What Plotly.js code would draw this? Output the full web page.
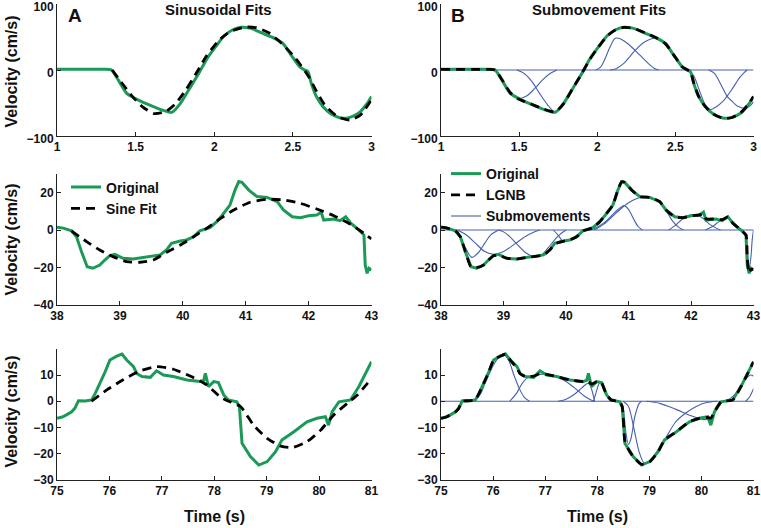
<!DOCTYPE html>
<html><head><meta charset="utf-8">
<script src="https://cdn.plot.ly/plotly-3.0.1.min.js"></script>
<style>html,body{margin:0;padding:0;background:#fff}#chart{width:761px;height:528px}</style>
</head><body><div id="chart"></div>
<script>
// ---------- Row 1 (t = 1..3 s) ----------
const t1Orig = [1.0,1.1,1.2,1.3,1.346,1.389,1.442,1.496,1.571,1.656,1.731,1.785,1.838,1.902,1.955,2.008,2.062,2.115,2.169,2.233,2.308,2.383,2.436,2.489,2.543,2.575,2.596,2.617,2.649,2.692,2.745,2.81,2.863,2.917,2.97,3.0];
const v1Orig = [1,1,1,1,0,-15,-35,-43,-51.5,-59.6,-64,-50.5,-30,-5,17.7,35,51.5,60.6,64.6,63,55.6,48,40.4,22.7,5,0,-2.5,-20,-40,-55.6,-67,-73,-71.7,-65.6,-51.5,-40];
const v1Lgnb = [1,1,1,1,0,-14,-34,-44,-51,-59,-63.5,-51,-30,-5,17,35,51,60.5,64.5,63,56,48,40,23,5,0.5,-2,-19,-40,-55.5,-67,-73.5,-72,-65,-51,-40];
const t1Sine = [1.351,1.42,1.479,1.54,1.617,1.69,1.75,1.82,1.898,1.947,2.03,2.1,2.2,2.27,2.35,2.43,2.52,2.6,2.65,2.7,2.78,2.862,2.93,3.0];
const v1Sine = [0,-22,-40,-55,-66,-63,-52,-30,0,20,45,58,65,64,56,40,17,-10,-32,-52,-70,-76,-68,-45];
const sub1T = [
  [1.346,1.39,1.44,1.5,1.55,1.6,1.65,1.7,1.741],
  [1.485,1.53,1.58,1.63,1.68,1.731,1.78,1.84,1.88,1.91],
  [1.99,2.02,2.05,2.08,2.115,2.15,2.2,2.25,2.3,2.34,2.37,2.393],
  [2.083,2.12,2.17,2.244,2.3,2.372,2.42,2.47,2.51,2.54,2.565],
  [2.59,2.62,2.66,2.69,2.724,2.76,2.81,2.83,2.86,2.91,2.94,2.96],
  [2.713,2.75,2.8,2.831,2.87,2.9,2.949,2.98,3.0]
];
const sub1V = [
  [0,-14,-33,-43,-39,-28,-15,-5,0],
  [0,-5,-17,-35,-52,-64,-51,-30,-13,0],
  [0,4,17,34,48,47,39,28,16,7,2,0],
  [0,2,10,30,42,48,42,28,14,5,0],
  [0,-10,-35,-52,-60,-56,-46,-40,-30,-12,-4,0],
  [0,-5,-26,-40,-49,-55,-58,-54,-48]
];

// ---------- Row 2 (t = 38..43 s) ----------
const t2Orig = [38.0,38.1,38.23,38.31,38.39,38.48,38.57,38.68,38.76,38.84,38.92,39.05,39.21,39.42,39.64,39.74,39.82,39.96,40.06,40.17,40.27,40.43,40.54,40.62,40.75,40.83,40.89,40.94,41.05,41.18,41.34,41.5,41.6,41.74,41.87,42.0,42.13,42.2,42.24,42.4,42.5,42.59,42.67,42.8,42.88,42.9,42.93,42.96,43.0];
const v2Orig = [1.5,1,-0.4,-3.6,-11.6,-19.6,-20.4,-18.7,-16,-13.7,-13,-15.1,-15.5,-14.4,-13.3,-10.7,-7.1,-5.9,-5.3,-3.6,-0.5,1.2,4.4,7.6,13.3,21.3,25.8,25.4,21.3,17.8,17.4,15.1,10.7,7.1,6.6,7.6,8.0,9.5,5.3,5.9,5,7.1,3.6,0,-2.7,-18.7,-23.1,-20.4,-21.3];
const v2Lgnb = [1.5,1,-0.4,-3.6,-11.6,-19.6,-20,-18.7,-16,-13.7,-13.5,-15,-15.5,-14.4,-13.3,-10.7,-7.5,-6,-5.3,-3.6,-0.5,1.2,4.4,7.6,13.3,21.3,25.6,25.4,21.3,17.8,17.4,15.1,10.7,7.1,6.6,7.6,8.0,8.5,6,5.9,5.5,7,3.6,0,-2.7,-15,-23,-21,-21];
const t2Sine = [38.23,38.47,38.68,38.89,39.11,39.32,39.53,39.74,39.96,40.17,40.38,40.59,40.81,41.07,41.34,41.6,41.87,42.13,42.4,42.67,42.88,43.0];
const v2Sine = [-0.5,-6.2,-10.7,-14.2,-16.9,-17.2,-16,-11.9,-8,-3.6,0.9,5.9,10.7,14.8,16.4,16,14.2,11.2,7.6,3,-1.8,-4.8];
const sub2T = [
  [38.2,38.3,38.4,38.49,38.6,38.7,38.8,38.92],
  [38.26,38.4,38.55,38.7,38.85,39.0,39.2,39.35,39.5,39.58],
  [38.92,39.0,39.1,39.2,39.35,39.5,39.62,39.75,39.88,40.0],
  [39.8,39.88,39.95,40.05,40.15,40.25,40.32],
  [40.38,40.5,40.65,40.8,40.93,41.0,41.08,41.15,41.22],
  [40.45,40.6,40.8,41.0,41.19,41.35,41.5,41.6,41.7,41.8,41.88],
  [41.64,41.75,41.85,41.99,42.1,42.2,42.3,42.4,42.47],
  [42.23,42.35,42.45,42.58,42.65,42.72,42.78,42.82],
  [42.82,42.87,42.9,42.93,42.96,42.98,43.0]
];
const sub2V = [
  [0,-4,-10,-14.6,-12,-7,-2.5,0],
  [0,-2.5,-7,-11.5,-13,-11.5,-7,-3.5,-1,0],
  [0,-1,-3.5,-7,-12,-14.3,-13,-8,-3,0],
  [0,-3,-6,-5.5,-3.5,-1,0],
  [0,1.5,5,10,13,11,6,2,0],
  [0,3,9,14.5,17.3,17,14.5,10.5,5,1.5,0],
  [0,2.5,5.5,8,8,6,3,1,0],
  [0,2,4.5,6.5,5,2,0.5,0],
  [0,-3,-10,-21,-14,-5,0]
];

// ---------- Row 3 (t = 75..81 s) ----------
const t3Orig = [75.0,75.1,75.18,75.28,75.34,75.41,75.54,75.66,75.73,75.82,75.92,76.01,76.14,76.24,76.33,76.46,76.52,76.62,76.78,76.9,77.03,77.22,77.48,77.73,77.8,77.83,77.89,77.99,78.08,78.18,78.27,78.43,78.48,78.53,78.59,78.69,78.85,79.01,79.17,79.29,79.52,79.77,79.96,80.12,80.18,80.25,80.38,80.6,80.76,80.89,81.0];
const v3Orig = [-6.5,-6,-5.2,-4,-2.7,0.2,0.1,0.5,3,6.8,11.3,15.7,17.2,18,15.7,13.2,10.6,9.4,9.1,11.6,10,9.4,8.1,7.5,8,10.6,5.6,7.5,7.1,2.4,0.5,-0.2,-2.1,-16,-17.9,-21.1,-24.3,-23,-19.2,-14.8,-11.6,-7.8,-6.5,-5.9,-9.1,-4,-0.2,0.5,5.6,10.6,15.1];
const v3Lgnb = [-6.5,-6,-5.2,-4,-2.7,0,0.2,0.5,3,6.8,11.3,15.7,17.2,18,15.7,12.5,10.5,9.4,9.6,10.5,10.2,9.4,8.1,7.5,7.5,7.5,6.5,7.5,7.1,2.4,0.5,-0.2,-2.1,-15,-18,-21.1,-24,-23,-19.2,-14.8,-11.6,-7.8,-6.5,-6.2,-6.5,-4,-0.2,0.5,5.6,10.6,15];
const t3Sine = [75.66,75.95,76.27,76.59,76.9,77.22,77.54,77.86,78.11,78.24,78.5,78.75,79.01,79.27,79.5,79.77,80.03,80.28,80.54,80.73,81.0];
const v3Sine = [0,4.3,8.3,11.6,13.2,12.2,9.6,6.2,1.7,0.3,-2,-9.1,-14.1,-17.1,-17.6,-15.4,-11,-5.2,-0.8,2.4,8.7];
const sub3T = [
  [75.63,75.75,75.85,76.0,76.1,76.2,76.3,76.4,76.5,76.6,76.7],
  [76.32,76.45,76.55,76.65,76.8,77.0,77.2,77.4,77.6,77.75,77.9,77.95],
  [77.25,77.4,77.55,77.7,77.8,77.85,77.9,77.95],
  [77.93,77.98,78.05,78.1,78.15,78.2,78.25],
  [78.44,78.5,78.55,78.6,78.65,78.72,78.8,78.85],
  [78.5,78.6,78.7,78.8,78.9,79.0,79.15,79.3,79.5,79.7,79.9,80.1,80.3],
  [78.95,79.2,79.5,79.8,80.05,80.2,80.3,80.4],
  [80.4,80.55,80.7,80.85,80.95,81.0],
  [80.85,80.92,81.0]
];
const sub3V = [
  [0,2.5,7,13.5,16.5,17.9,15.5,10,5,1.5,0],
  [0,3,6.5,8.8,10,10.3,9.5,7.5,4.5,2,0.3,0],
  [0,0.8,2.5,5,6.7,6.5,4,0],
  [0,3.5,7.2,7,4,1.5,0],
  [0,-3,-12,-16.5,-14,-6,-1,0],
  [0,-2,-10,-19,-23.5,-23,-19,-14.5,-8,-4.5,-2,-0.5,0],
  [0,-0.8,-3,-5.5,-7,-6,-3,0],
  [0,1,4,8.5,10,9.5],
  [0,1.5,4.8]
];

// ---------- axes ticks / labels ----------
const xTicks1 = [1,1.5,2,2.5,3], yTicks1 = [-100,0,100];
const xTicks2 = [38,39,40,41,42,43], yTicks2 = [-40,-20,0,20];
const xTicks3 = [75,76,77,78,79,80,81], yTicks3 = [-30,-20,-10,0,10];
const panelTitles = ['Sinusoidal Fits','Submovement Fits'];
const panelLetters = ['A','B'];
const legendNames = ['Original','Sine Fit','LGNB','Submovements'];
const yTitle = 'Velocity (cm/s)', xTitle = 'Time (s)';

// ---------- styling ----------
const FONT = 'Arial, "Liberation Sans", sans-serif';
const GREEN = '#1b9a57', BLUE = '#4660ad', BLACK = '#000000';
const W = 761, H = 528;
const colX = [[57/W, 371.5/W],[441/W, 753.5/W]];
const rowY = [[1-136/H, 1-4/H],[1-305/H, 1-173.75/H],[1-480/H, 1-348.75/H]];
const rowLabelShift = [3, 0, 0];

function axisBase(){ return {showline:true, linecolor:'#222', linewidth:1, ticks:'inside', ticklen:4, tickcolor:'#222',
  showgrid:false, zeroline:false, fixedrange:true, tickmode:'array', ticklabeloverflow:'allow',
  tickfont:{family:FONT, size:12, color:'#111', weight:'bold'}}; }

const layout = {width:W, height:H, margin:{l:0,r:0,t:0,b:0}, paper_bgcolor:'#fff', plot_bgcolor:'rgba(0,0,0,0)',
  showlegend:true, font:{family:FONT}, annotations:[]};

const xr = [[1,3],[38,43],[75,81]], yr = [[-100,100],[-40,30],[-30,20]];
const xt = [xTicks1,xTicks2,xTicks3], yt = [yTicks1,yTicks2,yTicks3];
let n = 0;
for (let r=0;r<3;r++){ for (let c=0;c<2;c++){ n++;
  const xs = n===1?'xaxis':'xaxis'+n, ys = n===1?'yaxis':'yaxis'+n;
  layout[xs] = Object.assign(axisBase(), {domain:colX[c], range:xr[r], tickvals:xt[r], anchor:'y'+(n===1?'':n)});
  layout[ys] = Object.assign(axisBase(), {domain:rowY[r], range:yr[r], tickvals:yt[r], anchor:'x'+(n===1?'':n), ticklabelshift:rowLabelShift[r]});
}}

function subTrace(T, V, tAll, xa, ya, showleg){
  const x = [tAll[0], tAll[tAll.length-1], null], y = [0,0,null];
  T.forEach((tt,i)=>{ x.push(...tt, null); y.push(...V[i], null); });
  return {x, y, xaxis:xa, yaxis:ya, type:'scatter', mode:'lines', name:legendNames[3],
    line:{color:BLUE, width:1.1, shape:'spline', smoothing:0.8}, connectgaps:false,
    showlegend:showleg, legend:'legend2', legendrank:3, hoverinfo:'skip'};
}
function origTrace(t, v, xa, ya, showleg, leg, shape){
  return {x:t, y:v, xaxis:xa, yaxis:ya, type:'scatter', mode:'lines', name:legendNames[0],
    line:{color:GREEN, width:3, shape:shape, smoothing:0.6}, showlegend:showleg, legend:leg, legendrank:1, hoverinfo:'skip'};
}
function fitTrace(t, v, xa, ya, name, showleg, leg){
  return {x:t, y:v, xaxis:xa, yaxis:ya, type:'scatter', mode:'lines', name:name,
    line:{color:BLACK, width:2.8, dash:'9px,6px', shape:'spline', smoothing:0.6}, showlegend:showleg, legend:leg, legendrank:2, hoverinfo:'skip'};
}

const data = [
  origTrace(t1Orig, v1Orig, 'x', 'y', false, 'legend', 'spline'),
  fitTrace(t1Sine, v1Sine, 'x', 'y', legendNames[1], false, 'legend'),
  subTrace(sub1T, sub1V, t1Orig, 'x2', 'y2', false),
  origTrace(t1Orig, v1Orig, 'x2', 'y2', false, 'legend2', 'spline'),
  fitTrace(t1Orig, v1Lgnb, 'x2', 'y2', legendNames[2], false, 'legend2'),

  origTrace(t2Orig, v2Orig, 'x3', 'y3', true, 'legend', 'linear'),
  fitTrace(t2Sine, v2Sine, 'x3', 'y3', legendNames[1], true, 'legend'),
  subTrace(sub2T, sub2V, t2Orig, 'x4', 'y4', true),
  origTrace(t2Orig, v2Orig, 'x4', 'y4', true, 'legend2', 'linear'),
  fitTrace(t2Orig, v2Lgnb, 'x4', 'y4', legendNames[2], true, 'legend2'),

  origTrace(t3Orig, v3Orig, 'x5', 'y5', false, 'legend', 'linear'),
  fitTrace(t3Sine, v3Sine, 'x5', 'y5', legendNames[1], false, 'legend'),
  subTrace(sub3T, sub3V, t3Orig, 'x6', 'y6', false),
  origTrace(t3Orig, v3Orig, 'x6', 'y6', false, 'legend2', 'linear'),
  fitTrace(t3Orig, v3Lgnb, 'x6', 'y6', legendNames[2], false, 'legend2')
];

const legFont = {family:FONT, size:14, color:'#111', weight:'bold'};
layout.legend = {x:66/W, y:1-171.5/H, xanchor:'left', yanchor:'top', bgcolor:'rgba(0,0,0,0)', borderwidth:0,
  font:legFont, traceorder:'normal', itemwidth:30};
layout.legend2 = {x:446/W, y:1-158/H, xanchor:'left', yanchor:'top', bgcolor:'rgba(0,0,0,0)', borderwidth:0,
  font:legFont, traceorder:'normal', itemwidth:30};

const ann = layout.annotations;
const titleX = [218.7/W, 599/W], letterX = [75/W, 458/W];
for (let c=0;c<2;c++){
  ann.push({xref:'paper', yref:'paper', x:titleX[c], y:1-9/H, xanchor:'center', yanchor:'middle', showarrow:false,
    text:panelTitles[c], font:{family:FONT, size:15, color:'#111', weight:'bold'}});
  ann.push({xref:'paper', yref:'paper', x:letterX[c], y:1-15/H, xanchor:'center', yanchor:'middle', showarrow:false,
    text:panelLetters[c], font:{family:FONT, size:19, color:'#111', weight:'bold'}});
  ann.push({xref:'paper', yref:'paper', x:(colX[c][0]+colX[c][1])/2, y:1-516.5/H, xanchor:'center', yanchor:'middle', showarrow:false,
    text:xTitle, font:{family:FONT, size:16, color:'#111', weight:'bold'}});
}
const yTitleY = [72/H, 240/H, 412/H];
for (let r=0;r<3;r++){
  ann.push({xref:'paper', yref:'paper', x:10.5/W, y:1-yTitleY[r], xanchor:'center', yanchor:'middle', showarrow:false,
    textangle:-90, text:yTitle, font:{family:FONT, size:16, color:'#111', weight:'bold'}});
}

Plotly.newPlot('chart', data, layout, {displayModeBar:false, staticPlot:true});
</script></body></html>
